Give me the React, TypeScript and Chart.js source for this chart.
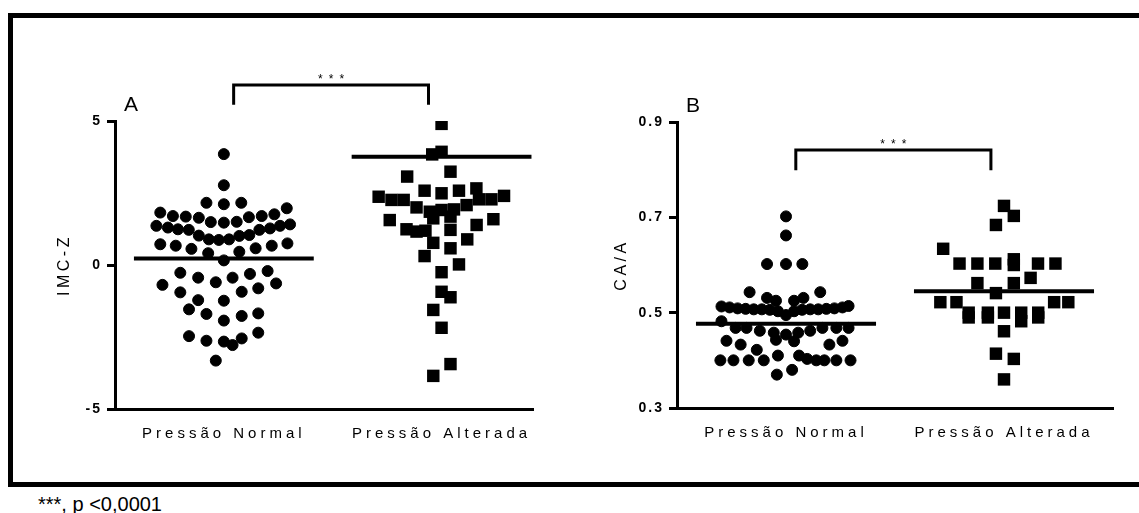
import React, { useEffect, useRef } from 'react';
import { Chart, registerables, LinearScale } from 'chart.js';

Chart.register(...registerables);

const FONT = "'Liberation Sans', Arial, Helvetica, sans-serif";

// ---------- data ----------
const categories = ['Pressão Normal', 'Pressão Alterada'];
const groupPositions = [1, 2];
const significance = '***';
const footnote = '***, p <0,0001';

// Panel A: IMC-Z
const imcTicks = [-5, 0, 5];
const imcNormalX = [
  1.0, 1.0, 0.92, 1.0, 1.08,
  0.708, 0.766, 0.825, 0.885, 0.94, 1.0, 1.059, 1.115, 1.174, 1.232, 1.289,
  0.69, 0.743, 0.789, 0.839, 0.885, 0.931, 0.977, 1.024, 1.071, 1.117, 1.163, 1.212, 1.258, 1.304,
  0.708, 0.779, 0.851, 0.928, 1.0, 1.071, 1.146, 1.22, 1.292,
  0.8, 0.882, 0.963, 1.04, 1.12, 1.201,
  0.718, 0.8, 0.882, 1.0, 1.082, 1.158, 1.24,
  0.84, 0.92, 1.0, 1.082, 1.158,
  0.84, 0.92, 1.0, 1.04, 1.082, 1.158,
  0.963,
];
const imcNormalY = [
  3.85, 2.77, 2.16, 2.11, 2.16,
  1.82, 1.7, 1.68, 1.64, 1.49, 1.47, 1.5, 1.66, 1.7, 1.76, 1.97,
  1.36, 1.3, 1.24, 1.22, 1.02, 0.89, 0.87, 0.89, 1.01, 1.04, 1.22, 1.27, 1.36, 1.41,
  0.72, 0.67, 0.56, 0.41, 0.16, 0.46, 0.58, 0.67, 0.75,
  -0.27, -0.44, -0.6, -0.44, -0.31, -0.21,
  -0.69, -0.95, -1.22, -1.24, -0.93, -0.81, -0.64,
  -1.54, -1.7, -1.93, -1.77, -1.68,
  -2.47, -2.63, -2.66, -2.78, -2.55, -2.35,
  -3.32,
];
const imcAlteredX = [
  2.0, 1.957, 2.0, 1.842, 2.041,
  1.922, 2.0, 2.08, 2.16, 2.287,
  1.711, 1.77, 1.826, 1.885, 1.946, 2.0, 2.057, 2.115, 2.172, 2.229,
  1.762, 1.962, 2.041, 2.238,
  1.839, 1.885, 1.926, 2.041, 2.161,
  1.962, 2.041, 2.118,
  1.922, 2.08,
  2.0,
  2.0, 2.041,
  1.962,
  2.0,
  2.041,
  1.962,
];
const imcAlteredY = [
  4.9, 3.84, 3.93, 3.07, 3.24,
  2.58, 2.49, 2.58, 2.66, 2.4,
  2.37, 2.26, 2.26, 2.0, 1.85, 1.91, 1.93, 2.08, 2.28, 2.28,
  1.56, 1.62, 1.68, 1.59,
  1.24, 1.16, 1.19, 1.22, 1.39,
  0.77, 0.58, 0.89,
  0.31, 0.02,
  -0.25,
  -0.93, -1.12,
  -1.56,
  -2.18,
  -3.44,
  -3.85,
];
const imcMeans = [0.23, 3.76];
const imcBracketX = [1.045, 1.94];
const imcBracketY = [5.56, 6.25];

// Panel B: CA/A
const caaTicks = [0.3, 0.5, 0.7, 0.9];
const caaNormalX = [
  1.0, 1.0,
  0.913, 1.0, 1.075,
  0.833, 0.913, 0.954, 1.037, 1.08, 1.157,
  0.704, 0.741, 0.778, 0.815, 0.852, 0.889, 0.926, 0.963, 1.0, 1.037, 1.074, 1.111, 1.148, 1.185, 1.222, 1.259, 1.287,
  0.704,
  0.769, 0.819, 0.88, 0.944, 1.056, 1.111, 1.167, 1.231, 1.287,
  0.727, 0.792, 0.954, 1.0, 1.037, 1.199, 1.259,
  0.866,
  0.699, 0.759, 0.829, 0.898, 0.963, 1.06, 1.097, 1.139, 1.176, 1.231, 1.296,
  0.958, 1.028,
];
const caaNormalY = [
  0.702, 0.662,
  0.602, 0.602, 0.602,
  0.543, 0.531, 0.525, 0.525, 0.531, 0.543,
  0.513, 0.511, 0.509, 0.508, 0.507, 0.507, 0.506, 0.503, 0.495, 0.503, 0.506, 0.507, 0.507, 0.508, 0.509, 0.511, 0.514,
  0.482,
  0.468, 0.468, 0.462, 0.458, 0.458, 0.462, 0.468, 0.468, 0.468,
  0.441, 0.433, 0.443, 0.454, 0.44, 0.433, 0.441,
  0.422,
  0.4, 0.4, 0.4, 0.4, 0.41, 0.41, 0.403, 0.4, 0.4, 0.4, 0.4,
  0.37, 0.38,
];
const caaAlteredX = [
  2.0, 2.045, 1.963, 1.721,
  1.796, 1.878, 1.96, 2.045, 2.045, 2.156, 2.236,
  2.122, 1.878, 2.045,
  1.963,
  1.708, 1.782, 2.23, 2.295,
  1.838, 1.838, 1.926, 1.926, 2.0, 2.079, 2.079, 2.157, 2.157,
  2.0, 1.963, 2.045, 2.0,
];
const caaAlteredY = [
  0.724, 0.703, 0.684, 0.634,
  0.603, 0.603, 0.603, 0.612, 0.6, 0.603, 0.603,
  0.573, 0.562, 0.562,
  0.541,
  0.522, 0.522, 0.522, 0.522,
  0.5, 0.49, 0.5, 0.49, 0.5, 0.5, 0.482, 0.5, 0.49,
  0.461, 0.414, 0.403, 0.36,
];
const caaMeans = [0.477, 0.545];
const caaBracketX = [1.045, 1.94];
const caaBracketY = [0.799, 0.841];

const MEAN_HALF_WIDTH = 0.413;

// ---------- custom scale with letter spacing ----------
class SpacedLinearScale extends LinearScale {
  static id = 'spacedLinear';
  drawLabels(area: any) {
    const ctx: any = (this as any).ctx;
    ctx.save();
    ctx.letterSpacing = (this as any).isHorizontal() ? '4px' : '2px';
    super.drawLabels(area);
    ctx.restore();
  }
  drawTitle() {
    const ctx: any = (this as any).ctx;
    ctx.save();
    ctx.letterSpacing = '3.5px';
    super.drawTitle();
    ctx.restore();
  }
}
Chart.register(SpacedLinearScale as any);

const zip = (xs: number[], ys: number[]) => xs.map((x, i) => ({ x, y: ys[i] }));

interface PanelSpec {
  left: number; top: number; w: number; h: number;
  yAxisW: number; xAxisH: number; padTop: number; padRight: number;
  xMax: number; yMin: number; yMax: number; ticks: number[]; fmt: (v: number) => string;
  title: string; titlePad: number; letter: string;
  nx: number[]; ny: number[]; ax: number[]; ay: number[];
  means: number[]; bx: number[]; by: number[];
}

const annotationPlugin = (p: PanelSpec) => ({
  id: 'panelAnnotations',
  afterDraw(chart: any) {
    const { ctx, chartArea, scales } = chart;
    ctx.save();
    ctx.fillStyle = '#000';
    ctx.font = `21px ${FONT}`;
    ctx.textAlign = 'left';
    ctx.textBaseline = 'alphabetic';
    ctx.fillText(p.letter, chartArea.left + 9, chartArea.top - 10);
    const xm = scales.x.getPixelForValue((p.bx[0] + p.bx[1]) / 2);
    const yt = scales.y.getPixelForValue(p.by[1]);
    ctx.font = `12px ${FONT}`;
    ctx.letterSpacing = '6px';
    ctx.textAlign = 'center';
    ctx.fillText(significance, xm + 3, yt - 2);
    ctx.restore();
  },
});

function buildConfig(p: PanelSpec): any {
  const hw = MEAN_HALF_WIDTH;
  const lineBase = { showLine: true, borderColor: '#000', pointRadius: 0, clip: false, borderCapStyle: 'butt', borderJoinStyle: 'miter' };
  return {
    type: 'scatter',
    data: {
      datasets: [
        { ...lineBase, borderWidth: 4, data: [{ x: groupPositions[0] - hw, y: p.means[0] }, { x: groupPositions[0] + hw, y: p.means[0] }] },
        { ...lineBase, borderWidth: 4, data: [{ x: groupPositions[1] - hw, y: p.means[1] }, { x: groupPositions[1] + hw, y: p.means[1] }] },
        {
          ...lineBase, borderWidth: 3,
          data: [
            { x: p.bx[0], y: p.by[0] }, { x: p.bx[0], y: p.by[1] },
            { x: p.bx[1], y: p.by[1] }, { x: p.bx[1], y: p.by[0] },
          ],
        },
        { data: zip(p.nx, p.ny), pointStyle: 'circle', pointRadius: 5.5, backgroundColor: '#000', borderColor: '#000', borderWidth: 1 },
        { data: zip(p.ax, p.ay), pointStyle: 'rect', pointRadius: 8.8, backgroundColor: '#000', borderColor: '#000', borderWidth: 0 },
      ],
    },
    options: {
      responsive: false,
      animation: false,
      devicePixelRatio: 1,
      events: [],
      layout: { padding: { top: p.padTop, right: p.padRight, left: 0, bottom: 0 } },
      plugins: { legend: { display: false }, tooltip: { enabled: false } },
      scales: {
        x: {
          type: 'spacedLinear', min: 0.5, max: p.xMax,
          afterBuildTicks: (s: any) => { s.ticks = groupPositions.map((v) => ({ value: v })); },
          afterFit: (s: any) => { s.height = p.xAxisH; },
          ticks: {
            autoSkip: false, maxRotation: 0, minRotation: 0, padding: 16, color: '#000',
            font: { family: FONT, size: 15 },
            callback: (_v: number, i: number) => categories[i],
          },
          grid: { display: false, drawTicks: false },
          border: { display: true, color: '#000', width: 3 },
        },
        y: {
          type: 'spacedLinear', min: p.yMin, max: p.yMax,
          afterBuildTicks: (s: any) => { s.ticks = p.ticks.map((v) => ({ value: v })); },
          afterFit: (s: any) => { s.width = p.yAxisW; },
          ticks: { padding: 5, color: '#000', font: { family: FONT, size: 14, weight: 'bold' }, callback: (v: number) => p.fmt(v) },
          grid: { drawOnChartArea: false, drawTicks: true, tickLength: 8, lineWidth: 3, color: '#000' },
          border: { display: true, color: '#000', width: 3 },
          title: { display: true, text: p.title, color: '#000', font: { family: FONT, size: 16 }, padding: { top: p.titlePad, bottom: 0 } },
        },
      },
    },
    plugins: [annotationPlugin(p)],
  };
}

const panelA: PanelSpec = {
  left: 20, top: 20, w: 540, h: 450,
  yAxisW: 95, xAxisH: 61, padTop: 101, padRight: 27,
  xMax: 2.42, yMin: -5, yMax: 5, ticks: imcTicks, fmt: (v) => String(v),
  title: 'IMC-Z', titlePad: 35, letter: 'A',
  nx: imcNormalX, ny: imcNormalY, ax: imcAlteredX, ay: imcAlteredY,
  means: imcMeans, bx: imcBracketX, by: imcBracketY,
};

const panelB: PanelSpec = {
  left: 580, top: 20, w: 559, h: 450,
  yAxisW: 97, xAxisH: 62, padTop: 102, padRight: 26,
  xMax: 2.5, yMin: 0.3, yMax: 0.9, ticks: caaTicks, fmt: (v) => v.toFixed(1),
  title: 'CA/A', titlePad: 32, letter: 'B',
  nx: caaNormalX, ny: caaNormalY, ax: caaAlteredX, ay: caaAlteredY,
  means: caaMeans, bx: caaBracketX, by: caaBracketY,
};

function Panel({ spec }: { spec: PanelSpec }) {
  const ref = useRef<HTMLCanvasElement>(null);
  useEffect(() => {
    const chart = new Chart(ref.current as HTMLCanvasElement, buildConfig(spec));
    return () => chart.destroy();
  }, [spec]);
  return (
    <canvas
      ref={ref}
      width={spec.w}
      height={spec.h}
      style={{ position: 'absolute', left: spec.left, top: spec.top, width: spec.w, height: spec.h }}
    />
  );
}

export default function App() {
  return (
    <div style={{ position: 'absolute', left: 0, top: 0, width: 1139, height: 513, overflow: 'hidden', background: '#fff' }}>
      <div
        style={{
          position: 'absolute', left: 8, top: 13, width: 1131, height: 474, boxSizing: 'border-box',
          borderTop: '5px solid #000', borderLeft: '5px solid #000', borderBottom: '5px solid #000',
        }}
      />
      <Panel spec={panelA} />
      <Panel spec={panelB} />
      <div style={{ position: 'absolute', left: 38, top: 494, font: `20px ${FONT}`, lineHeight: 1, whiteSpace: 'nowrap', color: '#000' }}>
        {footnote}
      </div>
    </div>
  );
}
